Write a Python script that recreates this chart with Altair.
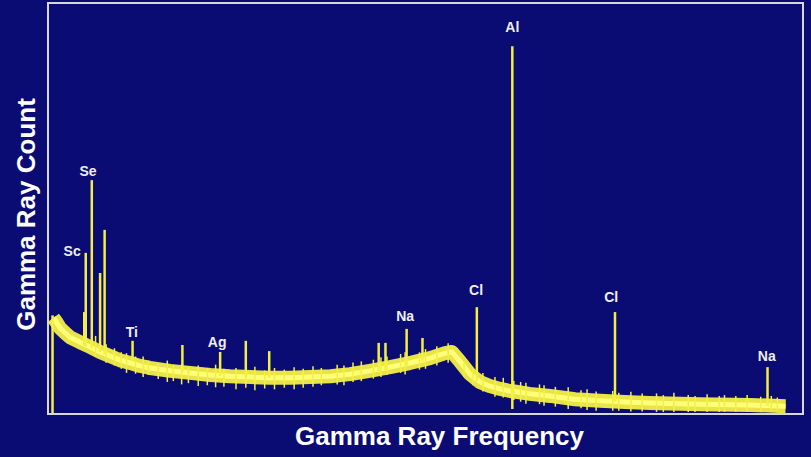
import altair as alt
import pandas as pd

# Continuum (background) of the spectrum
base_freq = [7, 11, 16, 23, 29, 42, 56, 69, 82, 95, 109, 122, 135, 162, 188, 215, 241,
             268, 294, 321, 347, 374, 400, 426, 453, 479, 506, 526, 535, 546, 559, 572,
             585, 599, 612, 620, 638, 665, 698, 731, 764, 797, 864, 930, 977]
base_count = [234, 224, 209, 197, 187, 175, 163, 151, 141, 131, 124, 117, 112, 105, 100,
              95, 92, 90, 88, 88, 90, 92, 97, 105, 114, 124, 136, 148, 151, 127, 97, 78,
              68, 61, 56, 54, 49, 44, 36, 32, 29, 27, 24, 22, 19]

# Channel-to-channel scatter of the continuum (low / high envelope)
noise_freq = [63, 77, 88, 97, 104, 116, 126, 133, 146, 158, 166, 177, 186, 199, 211, 222,
              233, 249, 262, 274, 287, 300, 313, 326, 338, 351, 362, 383, 392, 404, 415,
              431, 441, 449, 467, 473, 492, 500, 515, 530, 551, 563, 576, 592, 603, 617,
              626, 633, 651, 657, 672, 689, 706, 714, 726, 748, 756, 772, 787, 806, 815,
              829, 848, 857, 873, 889, 896, 911, 926, 944, 958, 966]
noise_low = [140, 125, 118, 110, 100, 98, 90, 95, 85, 78, 80, 72, 75, 68, 70, 65,
             66, 60, 64, 58, 62, 60, 64, 60, 64, 66, 70, 72, 70, 78, 80,
             86, 90, 95, 100, 96, 108, 110, 118, 125, 90, 70, 55, 42, 40, 34,
             30, 25, 24, 20, 18, 12, 14, 10, 8, 8, 8, 6, 6, 5, 5,
             5, 5, 5, 5, 5, 5, 5, 5, 5, 5, 5]
noise_high = [190, 170, 160, 150, 148, 140, 140, 130, 125, 130, 120, 122, 115, 118, 112, 120,
              110, 112, 108, 115, 106, 112, 108, 114, 110, 116, 112, 120, 118, 125, 128,
              132, 138, 140, 146, 150, 150, 158, 165, 172, 128, 110, 100, 90, 88, 80,
              78, 76, 72, 70, 66, 65, 58, 60, 55, 56, 52, 54, 50, 50, 46,
              52, 46, 44, 48, 44, 46, 44, 46, 42, 44, 40]

# Emission peaks
peak_freq = [6, 48, 50, 58, 69, 75, 112, 178, 228, 262, 293, 438, 447, 475, 496, 568, 615, 751, 953]
peak_top = [240, 248, 392, 569, 343, 448, 178, 168, 151, 178, 153, 173, 173, 207, 185, 260, 895, 248, 114]
peak_base = [2, 165, 165, 160, 151, 145, 130, 103, 93, 90, 88, 105, 108, 118, 128, 80, 12, 31, 20]

# Element labels
label_text = ["Sc", "Se", "Ti", "Ag", "Na", "Cl", "Al", "Cl", "Na"]
label_freq = [32, 53, 111, 224, 473, 567, 615, 746, 952]
label_count = [394, 589, 197, 173, 236, 299, 939, 282, 139]

base_df = pd.DataFrame({"freq": base_freq, "count": base_count})
noise_df = pd.DataFrame({"freq": noise_freq, "low": noise_low, "high": noise_high})
peak_df = pd.DataFrame({"freq": peak_freq, "top": peak_top, "base": peak_base})
label_df = pd.DataFrame({"text": label_text, "freq": label_freq, "count": label_count})

xs = alt.Scale(domain=[0, 1000], nice=False, zero=False)
ys = alt.Scale(domain=[0, 1000], nice=False)

FONT = "Liberation Sans"
YELLOW = "#f4ef45"

axis_style = dict(labels=False, ticks=False, domain=False, grid=False,
                  titleFont=FONT, titleFontSize=26, titleFontWeight="bold",
                  titleColor="white", titlePadding=9)

band = alt.Chart(base_df).mark_line(color=YELLOW, strokeWidth=14, opacity=0.95,
                                    strokeJoin="round").encode(
    x=alt.X("freq:Q", scale=xs, title="Gamma Ray Frequency",
            axis=alt.Axis(titleX=391, **axis_style)),
    y=alt.Y("count:Q", scale=ys, title="Gamma Ray Count",
            axis=alt.Axis(titleY=211, **axis_style)),
)

core = alt.Chart(base_df).mark_line(color="#ffff78", strokeWidth=5).encode(
    x=alt.X("freq:Q", scale=xs), y=alt.Y("count:Q", scale=ys))

noise = alt.Chart(noise_df).mark_rule(color=YELLOW, strokeWidth=1.5).encode(
    x=alt.X("freq:Q", scale=xs), y=alt.Y("low:Q", scale=ys), y2="high:Q")

peaks = alt.Chart(peak_df).mark_rule(color=YELLOW, strokeWidth=2.5).encode(
    x=alt.X("freq:Q", scale=xs), y=alt.Y("base:Q", scale=ys), y2="top:Q")

labels = alt.Chart(label_df).mark_text(font=FONT, fontSize=14, fontWeight="bold",
                                       color="#eeeeee", baseline="middle").encode(
    x=alt.X("freq:Q", scale=xs), y=alt.Y("count:Q", scale=ys), text="text:N")

chart = alt.layer(band, core, noise, peaks, labels).properties(
    width=755, height=411,
    padding={"left": 48, "top": 3, "right": 8, "bottom": 43},
    autosize="none",
    background="#0a0c74",
).configure_view(stroke="#d8d8d8", strokeWidth=2)

chart.save("out.html", embed_options={"renderer": "svg", "actions": False})
